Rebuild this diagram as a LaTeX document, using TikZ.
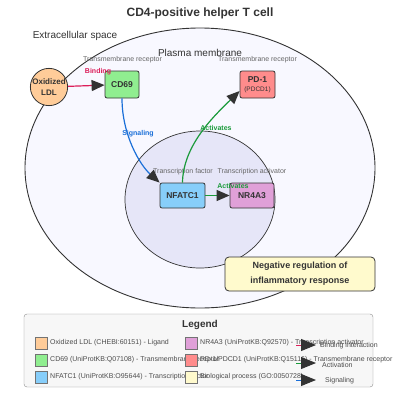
\documentclass[tikz,border=0pt]{standalone}
\usepackage{fontspec}
\setmainfont{Liberation Sans}
\usepackage{xcolor}
\usetikzlibrary{arrows.meta, positioning, shapes.geometric}
\definecolor{ldlcol}{HTML}{FFCC99}
\definecolor{cd69col}{HTML}{90EE90}
\definecolor{nfatcol}{HTML}{87CEFA}
\definecolor{nr4acol}{HTML}{E0A0D8}
\definecolor{pdcol}{HTML}{FF8C8C}
\definecolor{proccol}{HTML}{FFFACD}
\definecolor{cellcol}{HTML}{F8F8FF}
\definecolor{nuccol}{HTML}{E6E6F8}
\definecolor{bindcol}{HTML}{DC1E5A}
\definecolor{actcol}{HTML}{1A9A3A}
\definecolor{sigcol}{HTML}{1A6FD8}
\definecolor{linecol}{HTML}{333333}
\tikzstyle{protein} = [draw=linecol, line width=0.8pt, rounded corners=2pt, minimum height=27pt, inner sep=1pt, font=\bfseries\fontsize{8.5}{10}\selectfont, text=linecol]
\tikzstyle{arrow} = [line width=1.2pt, -{Triangle[length=13pt, width=11pt, color=linecol]}]
\tikzstyle{role} = [font=\fontsize{7}{8}\selectfont, text=black!60]
\tikzstyle{elabel} = [font=\bfseries\fontsize{7}{8}\selectfont]
\tikzstyle{legtext} = [font=\fontsize{7}{8}\selectfont, text=black!70, anchor=west, inner sep=0pt]
\tikzstyle{swatch} = [draw=black!55, minimum size=12pt, inner sep=0pt]
\tikzstyle{legarrow} = [line width=1pt, -{Triangle[length=15pt, width=12pt, color=linecol]}]

\begin{document}
\begin{tikzpicture}[x=1pt, y=-1pt]
    \useasboundingbox (0,0) rectangle (400,400);

    % Title and compartments
    \node[font=\bfseries\fontsize{12}{14}\selectfont, text=linecol] (title) at (200,13) {CD4-positive helper T cell};
    \node[font=\fontsize{10}{12}\selectfont, text=linecol] (extra) at (75,36) {Extracellular space};
    \node[ellipse, draw=linecol, line width=0.9pt, fill=cellcol, minimum width=350pt, minimum height=280pt] (cell) at (200,168) {};
    \node[font=\fontsize{10}{12}\selectfont, text=linecol] (membrane) at (200,53) {Plasma membrane};
    \node[ellipse, draw=linecol, line width=0.7pt, fill=nuccol, minimum width=150pt, minimum height=137pt] (nucleus) at (200,199.5) {};

    % Ligand and receptors
    \node[circle, draw=linecol, line width=0.8pt, fill=ldlcol, minimum size=36pt, inner sep=0pt, align=center, font=\bfseries\fontsize{8}{11}\selectfont, text=linecol] (ldl) at (49,87) {Oxidized\\LDL};
    \node[protein, fill=cd69col, minimum width=34pt] (cd69) at (122,84.5) {CD69};
    \node[protein, fill=pdcol, minimum width=35pt, align=center] (pd1) at (257.5,84.5) {PD-1\\[-1pt]{\mdseries\fontsize{6.5}{7}\selectfont (PDCD1)}};
    \node[role] (cd69role) at (122.5,60) {Transmembrane receptor};
    \node[role] (pd1role) at (257.5,60) {Transmembrane receptor};

    % Nuclear factors
    \node[protein, fill=nfatcol, minimum width=45pt, minimum height=25pt] (nfatc1) at (182.5,195.5) {NFATC1};
    \node[protein, fill=nr4acol, minimum width=44pt, minimum height=25pt] (nr4a3) at (252,195.5) {NR4A3};
    \node[role] (nfatrole) at (183,172) {Transcription factor};
    \node[role] (nr4arole) at (252,172) {Transcription activator};

    % Interactions
    \draw[arrow, bindcol] (ldl) -- (cd69);
    \node[elabel, text=bindcol] (bindlbl) at (98,72) {Binding};
    \draw[arrow, sigcol] (cd69.south) .. controls (122,135) and (140,165) .. (nfatc1.north west);
    \node[elabel, text=sigcol] (siglbl) at (138,134) {Signaling};
    \draw[arrow, actcol] (nfatc1.north) .. controls (183,145) and (215,115) .. (pd1.200);
    \node[elabel, text=actcol] (actlbl) at (216,128) {Activates};
    \draw[arrow, actcol] (nfatc1) -- (nr4a3);
    \node[elabel, text=actcol] (actlbl2) at (233,186) {Activates};

    % Biological process
    \node[draw=linecol, line width=0.8pt, rounded corners=4pt, fill=proccol, minimum width=150pt, minimum height=34pt, align=center, font=\bfseries\fontsize{9}{15}\selectfont, text=linecol] (process) at (300,274) {Negative regulation of\\inflammatory response};

    % Legend
    \node[draw=black!45, fill=black!3, rounded corners=3pt, minimum width=349pt, minimum height=73pt] (legend) at (198.5,350.5) {};
    \node[font=\bfseries\fontsize{10}{12}\selectfont, text=linecol] (legtitle) at (200,325) {Legend};

    \node[swatch, fill=ldlcol] (sw1) at (41,343) {};
    \node[legtext] (lt1) at (50,343) {Oxidized LDL (CHEBI:60151) - Ligand};
    \node[swatch, fill=cd69col] (sw2) at (41,360) {};
    \node[legtext] (lt2) at (50,360) {CD69 (UniProtKB:Q07108) - Transmembrane receptor};
    \node[swatch, fill=nfatcol] (sw3) at (41,377) {};
    \node[legtext] (lt3) at (50,377) {NFATC1 (UniProtKB:O95644) - Transcription factor};

    \node[swatch, fill=nr4acol] (sw4) at (191,343) {};
    \node[legtext] (lt4) at (200,343) {NR4A3 (UniProtKB:Q92570) - Transcription activator};
    \node[swatch, fill=pdcol] (sw5) at (191,360) {};
    \node[legtext] (lt5) at (200,360) {PD-1/PDCD1 (UniProtKB:Q15116) - Transmembrane receptor};
    \node[swatch, fill=proccol] (sw6) at (191,377) {};
    \node[legtext] (lt6) at (200,377) {Biological process (GO:0050728)};

    \coordinate (la1) at (296,345);
    \coordinate (lb1) at (316,345);
    \draw[legarrow, bindcol] (la1) -- (lb1);
    \node[legtext] (lt7) at (320,346) {Binding interaction};
    \coordinate (la2) at (296,363);
    \coordinate (lb2) at (316,363);
    \draw[legarrow, actcol] (la2) -- (lb2);
    \node[legtext] (lt8) at (322,365) {Activation};
    \coordinate (la3) at (296,380);
    \coordinate (lb3) at (316,380);
    \draw[legarrow, sigcol] (la3) -- (lb3);
    \node[legtext] (lt9) at (325,381) {Signaling};
\end{tikzpicture}
\end{document}
